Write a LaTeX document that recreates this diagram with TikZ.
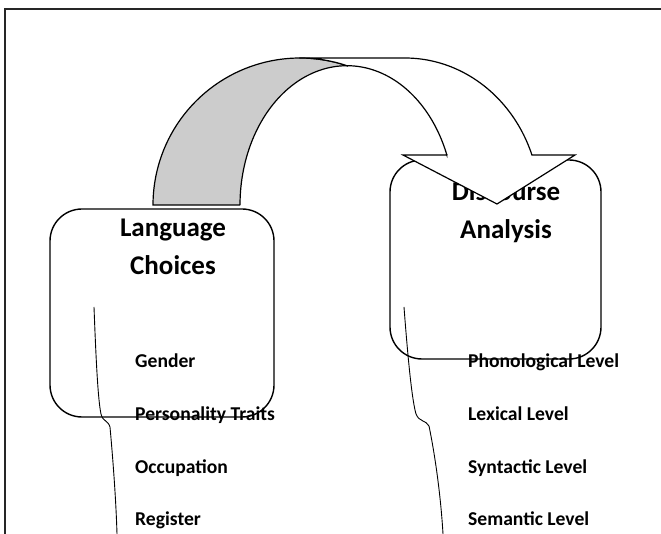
\documentclass[tikz,border=0pt]{standalone}
\usepackage{fontspec}
\newfontfamily\calib{Carlito}
\begin{document}
\begin{tikzpicture}[x=1pt,y=-1pt,
  title/.style={font=\calib\bfseries\fontsize{27}{32}\selectfont, anchor=base, inner sep=0pt},
  lbl/.style={font=\calib\bfseries\fontsize{19.6}{23}\selectfont, anchor=base west, inner sep=0pt},
  rbox/.style={draw, line width=1.4pt, rounded corners=32pt, inner sep=0pt},
  bracel/.style={line width=0.9pt},
  arrowpart/.style={draw, line width=1.2pt, line join=miter}]
\useasboundingbox (0,0) rectangle (661,534);
% frame
\draw[line width=1.6pt, black!85] (5,534) -- (5,9) -- (661,9);
% labels
\node[title] (lc1) at (173,237) {Language};
\node[title] (lc2) at (173,275) {Choices};
\node[title] (da1) at (506,201) {Discourse};
\node[title] (da2) at (506,239) {Analysis};
\node[lbl] (l1) at (135,367) {Gender};
\node[lbl] (l2) at (135,420) {Personality Traits};
\node[lbl] (l3) at (135,473) {Occupation};
\node[lbl] (l4) at (135,525) {Register};
\node[lbl] (r1) at (468,367) {Phonological Level};
\node[lbl] (r2) at (468,420) {Lexical Level};
\node[lbl] (r3) at (468,473) {Syntactic Level};
\node[lbl] (r4) at (468,525) {Semantic Level};
% boxes
\node[rbox, minimum width=224pt, minimum height=208pt] (lcbox) at (162,313) {};
\node[rbox, minimum width=211pt, minimum height=199pt] (dabox) at (495.5,259.5) {};
% brace-like lines
\coordinate (bl0) at (94,307);
\coordinate (bl1) at (101,414);
\coordinate (bl2) at (110,427);
\coordinate (bl3) at (117,534);
\draw[bracel] (bl0) .. controls (96,360) and (98,400) .. (bl1)
  .. controls (103,422) and (108,420) .. (bl2)
  .. controls (113,460) and (116,500) .. (bl3);
\coordinate (br0) at (404,307);
\coordinate (br1) at (416,414);
\coordinate (br2) at (429,426);
\coordinate (br3) at (443,534);
\draw[bracel] (br0) .. controls (408,360) and (412,400) .. (br1)
  .. controls (419,422) and (426,420) .. (br2)
  .. controls (436,460) and (441,500) .. (br3);
% curved arrow: back (grey) part
\fill[black!20] (153,205)
  -- plot[domain=180:71.35, samples=50, smooth] ({300+147*cos(\x)},{205-147*sin(\x)})
  -- plot[domain=90:180, samples=50, smooth] ({347+107*cos(\x)},{205-139.3*sin(\x)})
  -- cycle;
\draw[line width=1.2pt] (240,205) -- (153,205)
  -- plot[domain=180:71.35, samples=50, smooth] ({300+147*cos(\x)},{205-147*sin(\x)})
  -- plot[domain=90:180, samples=50, smooth] ({347+107*cos(\x)},{205-139.3*sin(\x)});
% front (white) part
\filldraw[fill=white, arrowpart] (300,58) -- (405,58)
  -- plot[domain=90:19.9, samples=50, smooth] ({405+135*cos(\x)},{205-147*sin(\x)})
  -- (575,155) -- (497,204) -- (403,155) -- (446.9,155)
  -- plot[domain=21:90, samples=50, smooth] ({347+107*cos(\x)},{205-139.3*sin(\x)})
  -- plot[domain=71.35:90, samples=20, smooth] ({300+147*cos(\x)},{205-147*sin(\x)})
  -- cycle;
\end{tikzpicture}
\end{document}
